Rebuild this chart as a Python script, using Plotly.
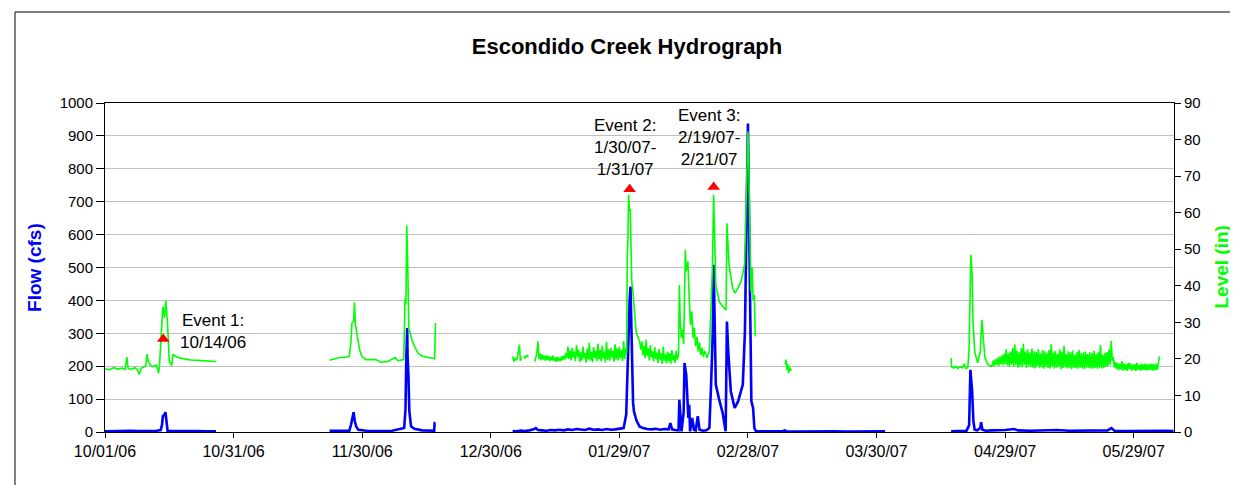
import numpy as np
import pandas as pd
import plotly.graph_objects as go

BASE_DATE = pd.Timestamp("2006-10-01")
STEP = 0.25  # days between readings in the dense (noisy) stretches

# ---------------- Flow (cfs) - blue, left axis ----------------
FLOW_1_DAY = [0, 2, 4, 6, 8, 10, 12, 13.0, 13.3, 13.5, 13.9, 14.1, 14.4, 14.6, 15.5, 18, 21, 24, 25.9]
FLOW_1_CFS = [2, 3, 2, 4, 3, 3, 4, 6, 22, 48, 53, 60, 22, 4, 3, 2, 3, 2, 2]

FLOW_2_DAY = [52.4, 55, 57.0, 57.4, 57.8, 58.0, 58.3, 58.6, 59.1, 61, 64, 67, 69.8, 70.1, 70.3, 70.5,
              70.6, 70.8, 71.0, 71.4, 72.2, 74, 76.8, 76.9, 77.1]
FLOW_2_CFS = [4, 3, 4, 22, 58, 60, 32, 17, 7, 4, 3, 4, 12, 68, 225, 316, 225, 169, 63, 17, 10, 5, 4, 27, 27]

FLOW_3_DAY = [95.1, 96, 97, 98, 99, 100, 100.5, 101, 102, 103,
              104, 105, 106, 107, 108, 109, 110, 111, 112, 113,
              114, 115, 116, 117, 118, 119, 120, 121, 121.6, 121.9,
              122.1, 122.4, 122.6, 122.8, 123.0, 123.2, 123.4, 124.0, 124.7, 125.5,
              126.5, 127.5, 128.5, 129.5, 130.5, 131.5, 131.9, 132.3, 133.0, 133.8,
              134.0, 134.3, 134.5, 135.0, 135.2, 135.6, 135.9, 136.1, 136.3, 136.5,
              137.0, 137.4, 137.8, 138.3, 138.7, 139.5, 140.3, 141.0, 141.4, 141.8,
              142.0, 142.3, 142.5, 143.3, 144.1, 144.6, 144.8, 145.1, 145.4, 146.0,
              146.9, 147.7, 148.8, 149.3, 149.6, 150.0, 150.2, 150.5, 150.8, 151.2,
              151.5, 151.9, 153, 155, 158, 158.6, 159, 161, 164, 167,
              170, 173, 176, 179, 182]
FLOW_3_CFS = [3, 2, 4, 3, 5, 8, 12, 6, 5, 4,
              6, 5, 7, 5, 8, 6, 9, 7, 6, 10,
              7, 8, 6, 9, 7, 8, 10, 12, 53, 200,
              306, 400, 442, 306, 124, 90, 63, 35, 17, 12,
              9, 8, 10, 7, 9, 8, 27, 8, 6, 5,
              98, 40, 2, 60, 210, 174, 103, 43, 83, 2,
              43, 7, 5, 48, 7, 4, 5, 12, 144, 306,
              508, 306, 144, 98, 58, 17, 2, 336, 245, 124,
              73, 93, 144, 306, 610, 938, 711, 427, 93, 73,
              12, 2, 2, 1, 2, 5, 2, 1, 2, 1,
              2, 1, 2, 1, 2]

FLOW_5_DAY = [197.4, 199, 201.0, 201.6, 201.9, 202.3, 202.6, 202.9, 203.5, 204.2,
              204.4, 204.7, 205.5, 207, 210, 212.1, 213, 216, 219, 222,
              225, 228, 231, 233.9, 234.8, 235.5, 238, 241, 244, 247, 249.3]
FLOW_5_CFS = [2, 3, 4, 20, 189, 124, 32, 7, 5, 12,
              30, 7, 4, 5, 6, 9, 5, 4, 5, 6,
              4, 5, 4, 5, 12, 4, 3, 4, 3, 4, 3]

# ---------------- Level (in) - green, right axis ----------------
LEVEL_1_DAY = [0, 1, 2, 3, 4, 4.7, 5.1, 5.4, 6, 7,
               7.6, 8.0, 8.4, 9, 9.5, 9.8, 10.1, 10.6, 11.2, 12.0,
               12.5, 12.7, 13.1, 13.5, 13.9, 14.2, 14.6, 15.0, 15.6, 15.8,
               16.3, 17.0, 18.5, 20.0, 21.6, 23.5, 25.5, 25.9]
LEVEL_1_IN = [17.3, 17.0, 17.6, 17.2, 17.5, 17.1, 20.5, 17.4, 17.1, 17.6,
              16.9, 15.7, 17.4, 17.8, 18.0, 21.3, 19.4, 18.2, 17.9, 18.3,
              16.1, 18.0, 26.6, 34.3, 31.2, 35.9, 29.3, 19.3, 18.2, 21.1,
              20.9, 20.4, 20.0, 19.7, 19.6, 19.5, 19.5, 19.3]

LEVEL_2_DAY = [52.4, 53.5, 54.7, 55.9, 57.0, 57.4, 57.6, 58.0, 58.2, 58.4,
               58.7, 59.0, 59.4, 59.9, 60.9, 63.2, 64.4, 66.0, 67.7, 68.3,
               69.7, 70.0, 70.2, 70.4, 70.6, 70.9, 71.3, 71.6, 72.2, 73.0,
               74.1, 75.7, 76.9, 77.1]
LEVEL_2_IN = [19.6, 20.0, 20.4, 20.4, 20.7, 24.8, 29.8, 30.3, 35.5, 29.8,
              27.1, 25.2, 22.5, 20.7, 19.8, 19.8, 19.1, 19.3, 20.4, 19.5,
              19.8, 36.6, 34.8, 56.5, 47.1, 28.4, 26.6, 25.2, 23.4, 21.6,
              20.7, 20.4, 20.0, 29.8]

LEVEL_3A_DAY = [95.1, 95.4, 95.7, 96.0, 96.3, 96.7, 96.9, 97.2]
LEVEL_3A_IN = [20.7, 19.3, 20.2, 19.6, 21.0, 23.9, 19.5, 20.3]
LEVEL_3A2_DAY = [97.7, 98.0, 98.4, 98.8]
LEVEL_3A2_IN = [20.8, 20.2, 21.0, 20.5]

LEVEL_3B_START = 100.25  # dense readings, every STEP days
LEVEL_3B_IN = [19.3, 20.5, 21.5, 24.8, 20.0, 21.5, 19.6, 21.2, 19.8, 20.9,
               19.5, 21.0, 19.7, 20.8, 19.4, 20.6, 19.6, 20.9, 19.5, 20.4,
               19.2, 20.6, 19.4, 20.3, 19.3, 20.7, 19.6, 20.9, 19.8, 21.6,
               20.2, 23.4, 20.0, 22.3, 19.6, 23.0, 20.4, 22.0, 19.4, 23.8,
               20.6, 22.5, 19.2, 21.8, 19.5, 23.4, 20.2, 21.6, 19.0, 22.8,
               19.8, 24.4, 19.5, 21.9, 19.1, 23.2, 20.3, 22.1, 19.4, 24.1,
               19.9, 22.4, 19.3, 23.6, 20.1, 22.0, 19.0, 24.6, 19.7, 22.6,
               19.5, 23.0, 20.4, 22.2, 19.2, 24.0, 19.8, 22.9, 19.6, 23.3,
               20.2, 22.5, 19.4, 24.9, 20.0, 22.8]
LEVEL_3C_DAY = [121.7, 121.85, 122.0, 122.15, 122.35, 122.55, 122.75, 122.9, 123.2, 123.5,
                123.9, 124.3, 124.7]
LEVEL_3C_IN = [21.5, 48.0, 53.0, 64.9, 60.5, 61.0, 45.0, 41.0, 38.0, 32.0,
               27.5, 26.0, 25.0]
LEVEL_3D_START = 125.0
LEVEL_3D_IN = [22.5, 24.8, 21.0, 23.6, 20.2, 25.2, 20.8, 22.9, 19.6, 23.8,
               20.4, 22.1, 19.3, 23.2, 20.0, 21.8, 18.9, 22.7, 19.8, 21.5,
               18.6, 23.4, 19.5, 21.2, 18.8, 22.0, 19.3, 21.6, 18.7, 22.4,
               19.6, 21.0, 18.9, 22.2, 19.8]
LEVEL_3E_DAY = [133.8, 134.0, 134.2, 134.5, 134.8, 135.0, 135.4, 135.6, 136.0, 136.3,
                136.6, 136.9, 137.2, 137.5, 137.8, 138.1, 138.4, 138.7, 139.0, 139.3,
                139.6, 139.9, 140.2, 140.5, 141.0, 141.4, 141.7, 142.0, 142.3, 142.5,
                143.0, 143.3, 144.0, 144.9, 145.1, 145.6, 146.4, 147.0, 147.5, 148.4,
                149.2, 149.6, 149.9, 150.0, 150.2, 150.4, 150.7, 151.0, 151.2, 151.5,
                151.7]
LEVEL_3E_IN = [21.0, 40.2, 30.0, 25.7, 28.0, 24.0, 49.8, 44.0, 46.6, 36.6,
               29.3, 33.0, 25.7, 28.5, 23.5, 26.0, 22.0, 24.5, 21.0, 23.0,
               20.5, 22.2, 21.1, 20.3, 22.0, 33.9, 45.0, 64.9, 53.0, 40.2,
               37.5, 35.7, 34.5, 33.4, 57.1, 45.7, 39.4, 38.0, 39.0, 41.2,
               45.7, 64.0, 77.5, 82.2, 73.0, 53.0, 38.5, 45.0, 36.0, 37.5,
               26.1]

LEVEL_4_DAY = [158.7, 158.9, 159.1, 159.3, 159.5, 159.7, 159.9, 160.1]
LEVEL_4_IN = [18.4, 19.8, 17.0, 18.6, 16.1, 17.8, 16.8, 17.2]

LEVEL_5A_DAY = [197.4, 197.5, 198.0, 198.5, 199.0, 199.5, 200.0, 200.5, 200.8, 201.3,
                201.6, 202.0, 202.3, 202.5, 202.9, 203.6, 204.2, 204.6, 204.9, 205.3,
                206.0, 206.8]
LEVEL_5A_IN = [20.2, 17.8, 17.5, 17.9, 17.4, 17.8, 17.6, 18.6, 17.4, 17.6,
               23.0, 48.5, 43.0, 30.3, 22.0, 18.9, 22.0, 30.7, 25.7, 20.2,
               18.4, 18.0]
LEVEL_5B_START = 207.0
LEVEL_5B_IN = [18.2, 19.6, 18.0, 19.9, 18.4, 20.3, 18.1, 20.6, 18.5, 21.0, 18.3, 21.4,
               18.6, 22.6, 18.2, 21.5, 17.8, 22.0, 18.4, 23.0, 17.9, 24.0, 18.2, 22.3,
               17.6, 21.8, 18.0, 22.9, 17.7, 24.1, 18.3, 22.0, 17.5, 22.6, 18.1, 21.7,
               17.8, 22.8, 17.6, 22.1, 17.4, 21.9, 18.0, 22.6, 17.6, 21.5, 17.7, 22.4,
               17.3, 22.0, 17.9, 21.6, 17.5, 22.5, 17.4, 24.0, 17.8, 21.7, 17.3, 22.2,
               17.6, 21.4, 17.8, 22.6, 17.2, 22.0, 17.5, 23.6, 17.7, 21.3, 17.4, 22.1,
               17.5, 21.8, 17.2, 22.3, 17.6, 21.2, 17.5, 21.9, 17.3, 22.4, 17.6, 21.5,
               17.4, 21.7, 17.2, 22.0, 17.6, 21.3, 17.5, 21.8, 17.3, 21.6, 17.4, 22.2,
               17.5, 21.4, 17.3, 21.9, 17.6, 23.8, 17.4, 21.2, 17.5, 21.6, 17.8, 21.9,
               18.0, 22.6, 18.4, 24.9, 19.5, 20.4, 17.6, 19.2, 17.2, 18.9, 16.9, 18.6,
               17.1, 19.4, 16.8, 18.7, 17.0, 18.5, 16.7, 19.0, 17.2, 18.8, 16.8, 18.4,
               16.9, 18.6, 16.7, 18.9, 17.0, 18.3, 16.8, 18.7, 16.9, 18.5, 17.0, 18.8,
               16.8, 18.4, 16.9, 18.6, 17.0, 18.7, 16.8, 18.5, 16.9, 18.6, 17.0, 18.4,
               20.7]

# ---------------- Storm event markers ----------------
EVENT_DAY = [13.6, 122.4, 142.0]
EVENT_CFS = [283, 738, 745]
EVENT_TEXT = ["Event 1:<br>10/14/06", "Event 2:<br>1/30/07-<br>1/31/07", "Event 3:<br>2/19/07-<br>2/21/07"]

TICK_DAY = [0, 30, 60, 90, 120, 150, 180, 210, 240]
TICK_LABELS = ["10/01/06", "10/31/06", "11/30/06", "12/30/06", "01/29/07",
               "02/28/07", "03/30/07", "04/29/07", "05/29/07"]


def to_dates(days):
    return BASE_DATE + pd.to_timedelta(np.asarray(days, dtype=float), unit="D")


def grid_days(start, values):
    return list(start + STEP * np.arange(len(values)))


FONT = "Liberation Sans, Arial, sans-serif"
BLUE = "#0000FF"
GREEN = "#00FF00"

fig = go.Figure()

flow_segments = [(FLOW_1_DAY, FLOW_1_CFS), (FLOW_2_DAY, FLOW_2_CFS),
                 (FLOW_3_DAY, FLOW_3_CFS), (FLOW_5_DAY, FLOW_5_CFS)]
for d, v in flow_segments:
    fig.add_trace(go.Scatter(x=to_dates(d), y=v, mode="lines", yaxis="y",
                             line=dict(color=BLUE, width=2.6), showlegend=False,
                             hoverinfo="skip"))

level3_days = (grid_days(LEVEL_3B_START, LEVEL_3B_IN) + LEVEL_3C_DAY +
               grid_days(LEVEL_3D_START, LEVEL_3D_IN) + LEVEL_3E_DAY)
level3_vals = LEVEL_3B_IN + LEVEL_3C_IN + LEVEL_3D_IN + LEVEL_3E_IN
level5_days = LEVEL_5A_DAY + grid_days(LEVEL_5B_START, LEVEL_5B_IN)
level5_vals = LEVEL_5A_IN + LEVEL_5B_IN

level_segments = [(LEVEL_1_DAY, LEVEL_1_IN), (LEVEL_2_DAY, LEVEL_2_IN),
                  (LEVEL_3A_DAY, LEVEL_3A_IN), (LEVEL_3A2_DAY, LEVEL_3A2_IN),
                  (level3_days, level3_vals), (LEVEL_4_DAY, LEVEL_4_IN),
                  (level5_days, level5_vals)]
for d, v in level_segments:
    fig.add_trace(go.Scatter(x=to_dates(d), y=v, mode="lines", yaxis="y2",
                             line=dict(color=GREEN, width=1.6), showlegend=False,
                             hoverinfo="skip"))

fig.add_trace(go.Scatter(x=to_dates(EVENT_DAY), y=EVENT_CFS, mode="markers", yaxis="y3",
                         marker=dict(symbol="triangle-up", size=11, color="#FF0000"),
                         showlegend=False, hoverinfo="skip"))

# event text boxes
EVENT_TEXT_POS = [(25.2, 304), (121.2, 864), (140.9, 895)]
for (dx, cy), txt in zip(EVENT_TEXT_POS, EVENT_TEXT):
    fig.add_annotation(x=to_dates([dx])[0], y=cy, xref="x", yref="y", text=txt,
                       showarrow=False, xanchor="center", yanchor="middle",
                       font=dict(family=FONT, size=17, color="black"), align="center")

# axis titles
fig.add_annotation(x=-0.066, y=0.5, xref="paper", yref="paper", text="<b>Flow (cfs)</b>",
                   textangle=-90, showarrow=False, xanchor="center", yanchor="middle",
                   font=dict(family=FONT, size=19, color=BLUE))
fig.add_annotation(x=1.044, y=0.5, xref="paper", yref="paper", text="<b>Level (in)</b>",
                   textangle=-90, showarrow=False, xanchor="center", yanchor="middle",
                   font=dict(family=FONT, size=19, color=GREEN))

# outer chart-area border
fig.add_shape(type="rect", xref="paper", yref="paper", x0=-0.0842, x1=1.0617,
              y0=-0.170, y1=1.2766, line=dict(color="black", width=1), layer="below")

fig.update_layout(
    width=1238, height=485,
    margin=dict(l=97, r=72, t=95, b=61),
    paper_bgcolor="white", plot_bgcolor="white",
    title=dict(text="<b>Escondido Creek Hydrograph</b>", x=0.5, xanchor="center",
               y=1 - 38 / 485, yanchor="middle", font=dict(family=FONT, size=22, color="black")),
    font=dict(family=FONT, size=15, color="black"),
    xaxis=dict(type="date", range=[to_dates([0])[0], to_dates([249.4])[0]],
               tickvals=to_dates(TICK_DAY), ticktext=TICK_LABELS,
               showgrid=False, zeroline=False, showline=True, linecolor="black", linewidth=1,
               mirror=True, ticks="outside", ticklen=5, tickcolor="black",
               tickfont=dict(family=FONT, size=16)),
    yaxis=dict(range=[0, 1000], dtick=100, showgrid=True, gridcolor="#C0C0C0", gridwidth=1,
               zeroline=False, showline=True, linecolor="black", linewidth=1,
               ticks="outside", ticklen=8, tickcolor="black",
               tickfont=dict(family=FONT, size=15)),
    yaxis2=dict(range=[0, 90], dtick=10, overlaying="y", side="right", showgrid=False,
                zeroline=False, showline=True, linecolor="black", linewidth=1,
                ticks="outside", ticklen=6, tickcolor="black",
                tickfont=dict(family=FONT, size=15)),
    yaxis3=dict(range=[0, 1000], overlaying="y", visible=False),
)

fig.write_html("out.html")
